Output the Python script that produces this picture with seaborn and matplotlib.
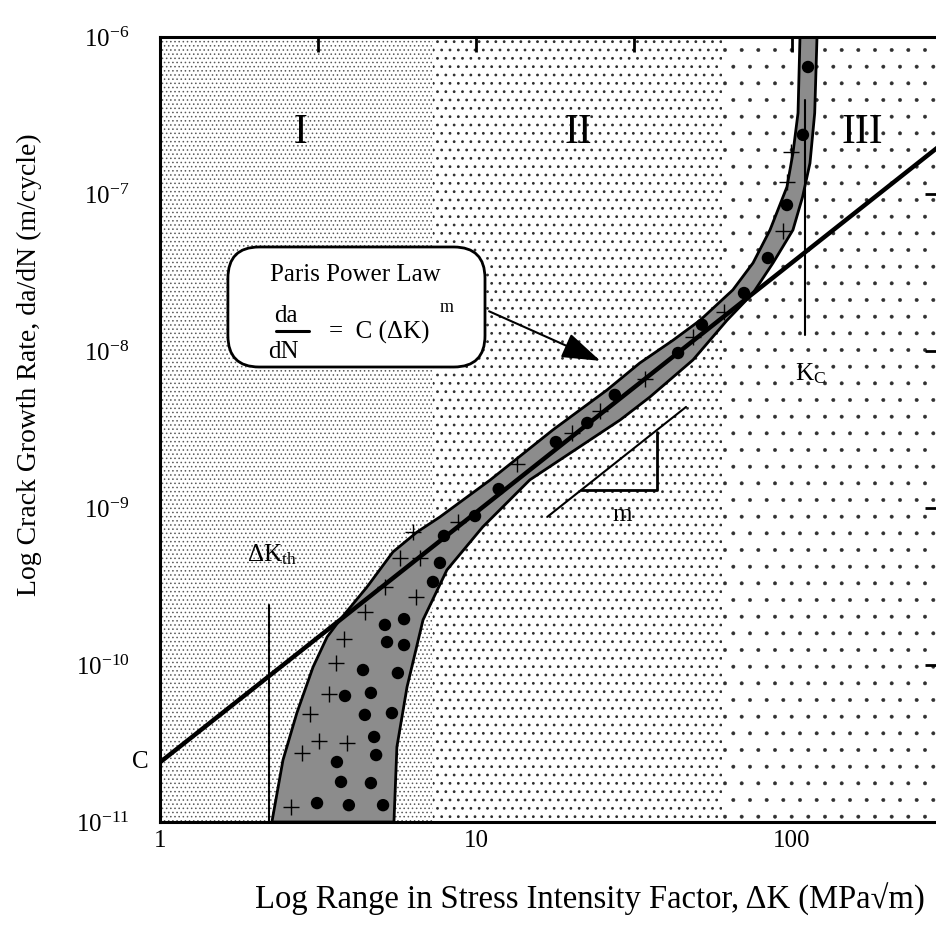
import seaborn as sns
import matplotlib.pyplot as plt
from matplotlib.patches import FancyBboxPatch
from matplotlib.ticker import FixedLocator, FixedFormatter, LogFormatterSciNotation, NullLocator

# ---- data (Delta K in MPa sqrt(m), da/dN in m/cycle) ----
# scatter band outline: upper/left edge bottom->top, then lower/right edge top->bottom
band_dk = [2.26, 2.45, 2.71, 3.05, 3.38, 3.71, 4.52, 5.46, 6.51, 7.69, 11.1, 17.5, 26.0, 33.0,
           42.0, 51.2, 65.0, 75.3, 85.2, 96.4, 100.7, 104.5, 106,
           120, 118, 114, 108, 100.7, 87.1, 75.3, 62.3, 48.6, 35.5, 28.6, 14.8, 10.5, 8.09,
           6.80, 6.05, 5.62, 5.50]
band_rate = [1e-11, 2.48e-11, 4.94e-11, 9.7e-11, 1.51e-10, 1.94e-10, 3.14e-10, 5.25e-10, 7.03e-10,
             8.77e-10, 1.51e-9, 3.14e-9, 5.65e-9, 8.39e-9, 1.17e-8, 1.57e-8, 2.45e-8, 3.64e-8,
             5.90e-8, 1.11e-7, 1.82e-7, 3.28e-7, 1e-6,
             1e-6, 3.28e-7, 1.57e-7, 9.57e-8, 5.90e-8, 3.64e-8, 2.34e-8, 1.57e-8, 8.77e-9, 5.09e-9,
             3.64e-9, 1.51e-9, 7.57e-10, 4.03e-10, 1.94e-10, 7.24e-11, 3.01e-11, 1e-11]

# filled circle data points
dot_dk = [112.4, 108.3, 96.4, 83.9, 70.5, 51.9, 43.6, 27.5, 22.5, 17.9, 11.8, 9.93, 7.92, 7.69,
          7.31, 5.92, 5.15, 5.23, 5.92, 4.39, 5.66, 3.85, 4.65, 4.45, 5.42, 4.76, 4.83, 3.63,
          3.74, 4.65, 3.14, 3.96, 5.08]
dot_rate = [6.44e-7, 2.38e-7, 8.51e-8, 3.91e-8, 2.34e-8, 1.47e-8, 9.71e-9, 5.25e-9, 3.48e-9,
            2.63e-9, 1.32e-9, 8.89e-10, 6.64e-10, 4.47e-10, 3.38e-10, 1.96e-10, 1.80e-10,
            1.40e-10, 1.34e-10, 9.29e-11, 8.89e-11, 6.35e-11, 6.64e-11, 4.81e-11, 4.94e-11,
            3.48e-11, 2.67e-11, 2.41e-11, 1.80e-11, 1.77e-11, 1.32e-11, 1.28e-11, 1.28e-11]

# cross data points
cross_dk = [99.3, 96.4, 93.7, 60.9, 48.6, 34.3, 24.7, 20.1, 13.5, 8.77, 6.32, 5.75, 6.65, 5.15,
            6.46, 4.45, 3.82, 3.61, 3.43, 2.98, 3.19, 3.91, 2.81, 2.60]
cross_rate = [1.85e-7, 1.19e-7, 5.81e-8, 1.77e-8, 1.23e-8, 6.64e-9, 4.15e-9, 3.01e-9, 1.91e-9,
              8.15e-10, 7.03e-10, 4.81e-10, 4.81e-10, 3.14e-10, 2.71e-10, 2.18e-10, 1.47e-10,
              1.03e-10, 6.53e-11, 4.88e-11, 3.28e-11, 3.19e-11, 2.75e-11, 1.25e-11]

# Paris law line end points, C ~ 2.4e-11 at dK = 1
paris_dk = [1, 300]
paris_rate = [2.4e-11, 2.1e-7]

# region limits (I | II | III)
region_edges = [1, 7.3, 60, 300]
region_names = ["I", "II", "III"]
region_hatch = ["....", "..", "."]
region_hatch_lw = [0.6, 0.8, 0.35]
region_hatch_col = ["#5a5a5a", "#303030", "#303030"]

dk_th = 2.21
dk_th_rate = [1e-11, 2.41e-10]
k_c = 110
k_c_rate = [1.26e-8, 3.97e-7]

# slope triangle
slope_dk = [16.8, 46.2]
slope_rate = [8.77e-10, 4.40e-9]
tri_dk = [21.5, 37.4, 37.4]
tri_rate = [1.30e-9, 1.30e-9, 3.05e-9]

# ---- style ----
sns.set_theme(style="white")
plt.rcParams["font.family"] = ["Liberation Serif", "DejaVu Serif"]
plt.rcParams["mathtext.fontset"] = "custom"
plt.rcParams["mathtext.rm"] = "Liberation Serif"
plt.rcParams["mathtext.it"] = "Liberation Serif:italic"
plt.rcParams["axes.unicode_minus"] = False
plt.rcParams["text.color"] = "black"
plt.rcParams["axes.labelcolor"] = "black"
plt.rcParams["xtick.color"] = "black"
plt.rcParams["ytick.color"] = "black"

fig = plt.figure(figsize=(9.37, 9.30), dpi=100)
ax = fig.add_axes([160 / 937, 108 / 930, 780.5 / 937, 785 / 930])
ax.set_xscale("log")
ax.set_yscale("log")
ax.set_xlim(1, 10 ** 2.47)
ax.set_ylim(1e-11, 1e-6)

# background regions
for i in range(3):
    with plt.rc_context({"hatch.linewidth": region_hatch_lw[i]}):
        ax.axvspan(region_edges[i], region_edges[i + 1], facecolor="white",
                   edgecolor=region_hatch_col[i], hatch=region_hatch[i], lw=0, zorder=0)

# scatter band
ax.fill(band_dk, band_rate, facecolor="#8c8c8c", edgecolor="black", lw=2, zorder=2)

# Paris law
sns.lineplot(x=paris_dk, y=paris_rate, ax=ax, color="black", lw=3.2, zorder=3)

# data points
sns.scatterplot(x=dot_dk, y=dot_rate, ax=ax, color="black", s=80, edgecolor="none", zorder=5)
sns.scatterplot(x=cross_dk, y=cross_rate, ax=ax, color="black", marker="+", s=130,
                linewidth=1, zorder=5)

# threshold and toughness lines
ax.plot([dk_th, dk_th], dk_th_rate, color="black", lw=1.5, zorder=4)
ax.plot([k_c, k_c], k_c_rate, color="black", lw=1.5, zorder=4)
ax.text(1.88, 4.6e-10, r"$\mathrm{\Delta K_{th}}$", fontsize=18, zorder=6)
ax.text(102, 7.2e-9, r"$\mathrm{K_{C}}$", fontsize=18, va="center", zorder=6)

# slope triangle
ax.plot(slope_dk, slope_rate, color="black", lw=1.5, zorder=4)
ax.plot(tri_dk, tri_rate, color="black", lw=2, zorder=4)
ax.text(29.0, 9.0e-10, "m", fontsize=18, ha="center", va="center", zorder=6)

# region labels
for name, x in zip(region_names, [0.1794, 0.5355, 0.8994]):
    ax.text(x, 0.8777, name, transform=ax.transAxes, fontsize=30, ha="center", va="center")

# Paris law box
box = FancyBboxPatch((0.087, 0.5796), 0.3294, 0.1529, boxstyle="round,pad=0,rounding_size=0.04",
                     transform=ax.transAxes, facecolor="white", edgecolor="black", lw=2, zorder=6)
ax.add_patch(box)
ax.text(0.2498, 0.6968, "Paris Power Law", transform=ax.transAxes, fontsize=18,
        ha="center", va="center", zorder=7)
ax.text(0.1614, 0.6446, "da", transform=ax.transAxes, fontsize=18, ha="center", va="center", zorder=7)
ax.text(0.1576, 0.5987, "dN", transform=ax.transAxes, fontsize=18, ha="center", va="center", zorder=7)
ax.plot([0.1490, 0.1910], [0.6255, 0.6255], transform=ax.transAxes, color="black", lw=2.2, zorder=7)
ax.text(0.2160, 0.6242, "=  C (ΔK)", transform=ax.transAxes, fontsize=18, ha="left", va="center",
        zorder=7)
ax.text(0.3670, 0.6560, "m", transform=ax.transAxes, fontsize=13, ha="center", va="center", zorder=7)

ax.annotate("", xy=(25.2, 8.51e-9), xytext=(10.8, 1.82e-8),
            arrowprops=dict(arrowstyle="-|>,head_length=1.2,head_width=0.4", color="black",
                            lw=1.5, mutation_scale=20), zorder=7)

# C intercept label
ax.text(-0.0256, 0.0764, "C", transform=ax.transAxes, fontsize=18, ha="center", va="center")

# ---- axes ----
for s in ax.spines.values():
    s.set_linewidth(2.2)
    s.set_color("black")
ax.xaxis.set_major_locator(FixedLocator([1, 10, 100]))
ax.xaxis.set_major_formatter(FixedFormatter(["1", "10", "100"]))
ax.xaxis.set_minor_locator(FixedLocator([10 ** 0.5, 10 ** 1.5]))
ax.yaxis.set_major_locator(FixedLocator([1e-11, 1e-10, 1e-9, 1e-8, 1e-7, 1e-6]))
ax.yaxis.set_major_formatter(LogFormatterSciNotation())
ax.yaxis.set_minor_locator(NullLocator())
ax.tick_params(which="both", direction="in", length=11, width=2, color="black",
               top=True, right=True)
ax.tick_params(which="minor", bottom=False)
ax.tick_params(axis="x", labelsize=18, pad=6)
ax.tick_params(axis="y", labelsize=18, pad=22)

ax.set_xlabel("Log Range in Stress Intensity Factor, ΔK (MPa√m)", fontsize=23.5)
ax.xaxis.set_label_coords(0.551, -0.077)
ax.set_ylabel("Log Crack Growth Rate, da/dN (m/cycle)", fontsize=20)
ax.yaxis.set_label_coords(-0.151, 0.582)

fig.savefig("out.png", dpi=100)
